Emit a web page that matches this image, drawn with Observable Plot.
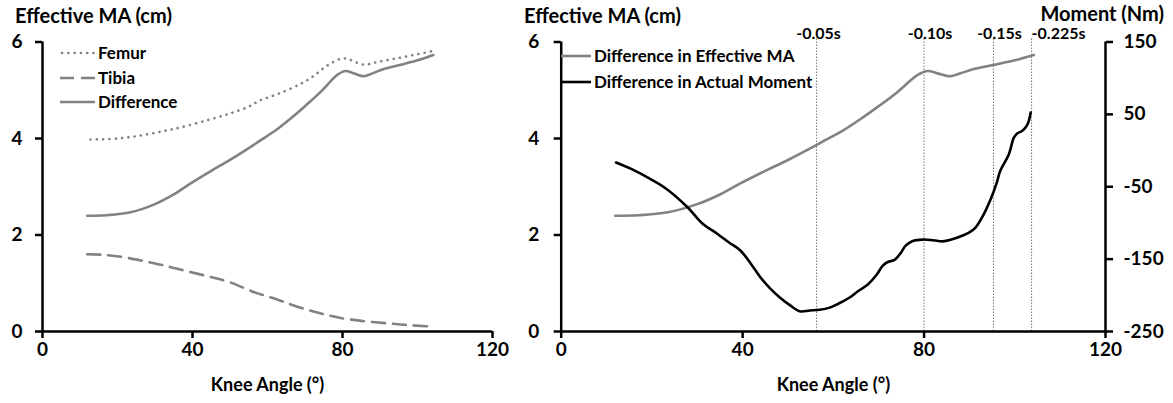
<!DOCTYPE html>
<html>
<head>
<meta charset="utf-8">
<script src="https://cdn.jsdelivr.net/npm/d3@7"></script>
<script src="https://cdn.jsdelivr.net/npm/@observablehq/plot@0.6"></script>
<style>
  body { margin: 0; background: #fff; }
  #wrap { position: relative; width: 1173px; height: 403px; font-family: Lato, "Open Sans", sans-serif; font-weight: bold; color: #000; overflow: hidden; }
  .title { font-size: 20px; line-height: 20px; white-space: nowrap; }
  .leg { font-size: 17px; line-height: 20px; white-space: nowrap; display: flex; align-items: center; }
  .leg svg { display: block; margin-right: 3px; }
</style>
</head>
<body>
<div id="wrap"></div>
<script>
// ---------- data ----------
const xTicks = [0, 40, 80, 120];
const maTicks = [0, 2, 4, 6];
const momentTicks = [-250, -150, -50, 50, 150];

const femurAngle = [12.8, 20, 26, 32, 36.8, 44, 50, 55, 58, 63, 68.8, 72, 75.9, 79.9, 82, 85.7, 89, 93.7, 99, 104.4];
const femurMA    = [3.98, 4.00, 4.06, 4.15, 4.23, 4.38, 4.52, 4.66, 4.79, 4.93, 5.13, 5.28, 5.51, 5.66, 5.63, 5.53, 5.58, 5.65, 5.73, 5.82];

const tibiaAngle = [11.9, 16, 21.6, 27, 32.3, 38, 44.8, 50, 56.3, 62, 67, 72, 76, 79.5, 85, 91.9, 98, 104.4];
const tibiaMA    = [1.60, 1.59, 1.54, 1.46, 1.37, 1.26, 1.13, 1.02, 0.82, 0.68, 0.54, 0.42, 0.34, 0.28, 0.22, 0.17, 0.13, 0.10];

const diffAngle = [11.9, 17, 23.5, 30, 35, 39.5, 45, 50.1, 55, 58.1, 62, 66.1, 70, 74.1, 77, 78.6, 80.8, 83, 85.7, 88, 91, 95, 100, 104.2];
const diffMA    = [2.40, 2.41, 2.47, 2.64, 2.84, 3.07, 3.33, 3.56, 3.80, 3.96, 4.16, 4.41, 4.67, 4.96, 5.20, 5.32, 5.40, 5.35, 5.29, 5.35, 5.44, 5.52, 5.62, 5.73];

const momentAngle = [12.1, 16, 19, 23, 27.8, 31, 34.4, 37, 39.5, 42, 43.9, 46, 48.2, 50.5, 52.6, 54.8, 57, 59.2, 61, 63.6, 65.5, 67.6, 69.5, 70.9, 72, 73.5, 74.8, 76, 77.5, 79.7, 82, 84.1, 86, 88.4, 90, 91.4, 93, 94.7, 96, 96.8, 98.7, 99.8, 100.6, 101.6, 102.6, 103.1, 103.5];
const momentNm    = [-16.5, -27, -37, -52, -78, -100, -115, -127, -138, -158, -175, -190, -203, -214, -222, -221, -220, -217, -212, -203, -194, -185, -172, -159, -154, -151, -142, -131, -125, -123, -124, -125.5, -123, -117.6, -113, -106, -90, -67, -45, -28, -5, 18, 24, 27, 34, 41, 52.5];

const timeLabels = ["-0.05s", "-0.10s", "-0.15s", "-0.225s"];
const timeAngles = [56.3, 80, 95.3, 103.7];

const leftLegend = ["Femur", "Tibia", "Difference"];
const rightLegend = ["Difference in Effective MA", "Difference in Actual Moment"];

// ---------- tables ----------
const femur = femurAngle.map((a, i) => ({angle: a, ma: femurMA[i]}));
const tibia = tibiaAngle.map((a, i) => ({angle: a, ma: tibiaMA[i]}));
const diff = diffAngle.map((a, i) => ({angle: a, ma: diffMA[i]}));
const moment = momentAngle.map((a, i) => ({angle: a, nm: momentNm[i]}));
const times = timeAngles.map((a, i) => ({angle: a, label: timeLabels[i]}));

const GRAY = "#828282";
const FONT = {fontFamily: "Lato, 'Open Sans', sans-serif", fontSize: "19px", fontWeight: "bold", background: "transparent", overflow: "visible"};
const wrap = document.getElementById("wrap");

function place(el, left, top) {
  el.style.position = "absolute";
  el.style.left = left + "px";
  el.style.top = top + "px";
  wrap.appendChild(el);
}

const H = 403, MT = 41.5, MB = 72;

// ---------- left panel ----------
const left = Plot.plot({
  width: 520, height: H,
  marginLeft: 42, marginRight: 28, marginTop: MT, marginBottom: MB,
  style: FONT,
  x: {domain: [0, 120]},
  y: {domain: [0, 6]},
  marks: [
    Plot.axisY({ticks: maTicks, tickSize: 7, tickPadding: 13, strokeWidth: 2.5, tickFormat: d => d, label: null}),
    Plot.axisX({ticks: xTicks, tickSize: 7, tickPadding: 4, strokeWidth: 2.5, tickFormat: d => d, label: null}),
    Plot.ruleX([0], {strokeWidth: 2.5}),
    Plot.ruleY([0], {strokeWidth: 2.5}),
    Plot.line(femur, {x: "angle", y: "ma", stroke: GRAY, strokeWidth: 2.6, strokeDasharray: "0.1,6.2", strokeLinecap: "round", curve: "catmull-rom"}),
    Plot.line(tibia, {x: "angle", y: "ma", stroke: GRAY, strokeWidth: 2.6, strokeDasharray: "13,8", curve: "catmull-rom"}),
    Plot.line(diff, {x: "angle", y: "ma", stroke: GRAY, strokeWidth: 2.6, curve: "catmull-rom"}),
    Plot.text(["Knee Angle (°)"], {frameAnchor: "bottom", dy: 54, lineAnchor: "middle", fontSize: 18})
  ]
});
place(left, 0, 0);

// ---------- right panel (MA) ----------
const RW = 653, RML = 40.7, RMR = 68;
const right = Plot.plot({
  width: RW, height: H,
  marginLeft: RML, marginRight: RMR, marginTop: MT, marginBottom: MB,
  style: FONT,
  x: {domain: [0, 120]},
  y: {domain: [0, 6]},
  marks: [
    Plot.ruleX(times, {x: "angle", stroke: "#555", strokeWidth: 0.8, strokeDasharray: "1.5,1.5", insetTop: -3}),
    ...times.map((d, i) => Plot.text([d], {x: "angle", text: "label", frameAnchor: "top", dy: -8, dx: [2, 6, 6, 27][i], fontSize: 16, lineAnchor: "middle"})),
    Plot.axisY({ticks: maTicks, tickSize: 7, tickPadding: 15, strokeWidth: 2.5, tickFormat: d => d, label: null}),
    Plot.axisX({ticks: xTicks, tickSize: 7, tickPadding: 4, strokeWidth: 2.5, tickFormat: d => d, label: null}),
    Plot.ruleX([0], {strokeWidth: 2.5}),
    Plot.ruleY([0], {strokeWidth: 2.5}),
    Plot.line(diff, {x: "angle", y: "ma", stroke: GRAY, strokeWidth: 2.6, curve: "catmull-rom"}),
    Plot.text(["Knee Angle (°)"], {frameAnchor: "bottom", dy: 54, lineAnchor: "middle", fontSize: 18})
  ]
});
place(right, 520, 0);

// ---------- right panel (moment, secondary axis) ----------
const right2 = Plot.plot({
  width: RW, height: H,
  marginLeft: RML, marginRight: RMR, marginTop: MT, marginBottom: MB,
  style: FONT,
  x: {domain: [0, 120], axis: null},
  y: {domain: [-250, 150]},
  marks: [
    Plot.axisY({anchor: "right", ticks: momentTicks, tickSize: 7, tickPadding: 11, strokeWidth: 2.5, tickFormat: d => d, label: null}),
    Plot.ruleX([120], {strokeWidth: 2.5}),
    Plot.line(moment, {x: "angle", y: "nm", stroke: "#000", strokeWidth: 2.6, curve: "catmull-rom"})
  ]
});
place(right2, 520, 0);

// ---------- titles ----------
function title(txt, left, top, align) {
  const d = document.createElement("div");
  d.className = "title";
  d.textContent = txt;
  place(d, left, top);
  if (align === "right") { d.style.left = "auto"; d.style.right = left + "px"; }
}
title("Effective MA (cm)", 15, 5);
title("Effective MA (cm)", 524, 5);
title("Moment (Nm)", 9, 3, "right");

// ---------- legends ----------
function swatch(kind, color, w) {
  const ns = "http://www.w3.org/2000/svg";
  const s = document.createElementNS(ns, "svg");
  s.setAttribute("width", w); s.setAttribute("height", 8);
  const l = document.createElementNS(ns, "line");
  l.setAttribute("x1", kind === "dot" ? 2 : 0); l.setAttribute("x2", w); l.setAttribute("y1", 4); l.setAttribute("y2", 4);
  l.setAttribute("stroke", color); l.setAttribute("stroke-width", 2.6);
  if (kind === "dot") { l.setAttribute("stroke-dasharray", "0.1,6.2"); l.setAttribute("stroke-linecap", "round"); }
  if (kind === "dash") { l.setAttribute("stroke-dasharray", "14,7"); }
  s.appendChild(l);
  return s;
}
function legendRow(txt, kind, color, w, left, top) {
  const d = document.createElement("div");
  d.className = "leg";
  d.appendChild(swatch(kind, color, w));
  const t = document.createElement("span");
  t.textContent = txt;
  d.appendChild(t);
  place(d, left, top);
}
const leftKinds = ["dot", "dash", "solid"];
leftLegend.forEach((t, i) => legendRow(t, leftKinds[i], GRAY, 35, 60, [43, 68, 92][i]));
const rightColors = [GRAY, "#000"];
rightLegend.forEach((t, i) => legendRow(t, "solid", rightColors[i], 30, 561, [46, 72][i]));
</script>
</body>
</html>
